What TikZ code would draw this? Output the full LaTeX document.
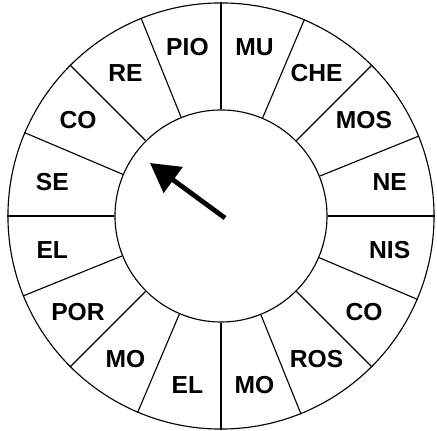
\documentclass[tikz,border=0pt]{standalone}
\usepackage{fontspec}
\setsansfont{Liberation Sans}
\usepackage{tikz}
\usetikzlibrary{arrows.meta}
\newcommand{\slot}[2]{\node[font=\sffamily\bfseries\fontsize{17.5}{17.5}\selectfont] (s#1) at (#1*22.5+11.25:172) {#2};}

\begin{document}
\begin{tikzpicture}[x=0.025cm,y=0.025cm]
  \useasboundingbox (-221,-215) rectangle (216,216);
  \node[circle,draw,line width=0.8pt,minimum size=10.65cm] (rim) at (0,0) {};
  \node[circle,draw,line width=0.8pt,minimum size=5.3cm] (hub) at (0,0) {};
  \foreach \a in {0,22.5,...,337.5}{
    \draw[line width=0.8pt] (hub.\a) -- (rim.\a);
  }
  \foreach \i/\t in {0/NE,1/MOS,2/CHE,3/MU,4/PIO,5/RE,6/CO,7/SE,8/EL,9/POR,10/MO,11/EL,12/MO,13/ROS,14/CO,15/NIS}{
    \slot{\i}{\t}
  }
  \coordinate (tail) at (4,-2);
  \coordinate (tip) at (-71,53);
  \draw[line width=3.4pt,-{Triangle[length=0.72cm,width=0.78cm]}] (tail) -- (tip);
\end{tikzpicture}
\end{document}
